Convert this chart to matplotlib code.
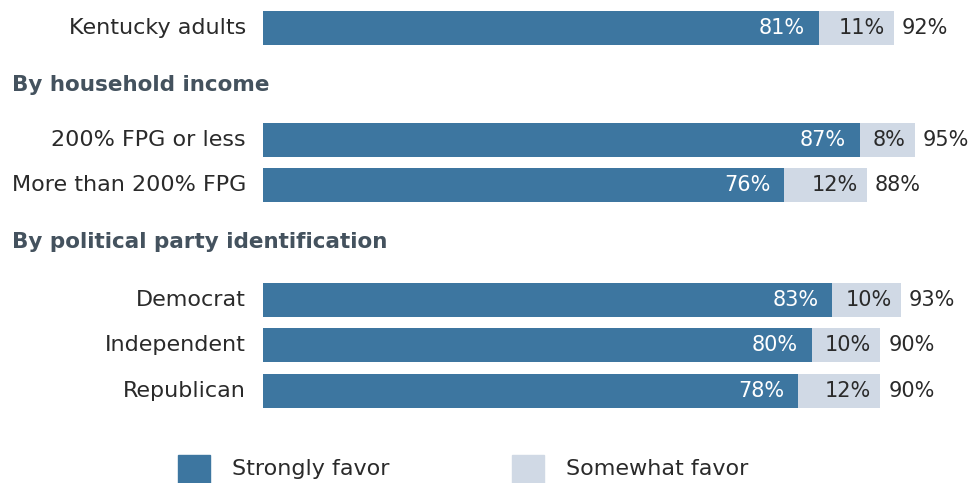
import matplotlib
matplotlib.use("Agg")
import matplotlib.pyplot as plt
from matplotlib.patches import Rectangle

categories = ["Kentucky adults", "200% FPG or less", "More than 200% FPG",
              "Democrat", "Independent", "Republican"]
strongly = [81, 87, 76, 83, 80, 78]
somewhat = [11, 8, 12, 10, 10, 12]
totals = [92, 95, 88, 93, 90, 90]
headings = ["By household income", "By political party identification"]
legend_labels = ["Strongly favor", "Somewhat favor"]

DARK = "#3D76A0"
LIGHT = "#D0D9E5"
HEAD = "#44525E"
TXT = "#2a2a2a"

W, H = 968, 483
fig = plt.figure(figsize=(W / 100, H / 100), dpi=100)
plt.rcParams['font.family'] = ['DejaVu Sans']

x0, x100 = 263, 949
ax = fig.add_axes([x0 / W, 0, (x100 - x0) / W, 1])
ax.set_xlim(0, 100)
ax.set_ylim(H, 0)
ax.axis("off")

# layout (pixel rows)
row_y = [28, 140, 185, 300, 345, 391]
bar_h = 34
head_y = [85, 242]

pct_per_px = 100 / (x100 - x0)

fs = 15
fs_lab = 16
ax.barh(row_y, strongly, height=bar_h, color=DARK, left=0)
ax.barh(row_y, somewhat, height=bar_h, color=LIGHT, left=strongly)

for y, cat, s, w, t in zip(row_y, categories, strongly, somewhat, totals):
    ax.text(-17 * pct_per_px, y, cat, ha="right", va="center", fontsize=fs_lab, color=TXT)
    ax.text(s - 14 * pct_per_px, y, f"{s}%", ha="right", va="center", fontsize=fs, color="white")
    ax.text(s + w - 9 * pct_per_px, y, f"{w}%", ha="right", va="center", fontsize=fs, color=TXT)
    ax.text(s + w + 8 * pct_per_px, y, f"{t}%", ha="left", va="center", fontsize=fs, color=TXT)

for y, h in zip(head_y, headings):
    fig.text(12 / W, 1 - y / H, h, ha="left", va="center", fontsize=15.5,
             fontweight="bold", color=HEAD)

# legend
leg_items = [(178, DARK), (512, LIGHT)]
for (lx, col), lab in zip(leg_items, legend_labels):
    fig.patches.append(Rectangle((lx / W, 1 - 484 / H), 32 / W, 29 / H,
                                 transform=fig.transFigure, color=col))
    fig.text((lx + 54) / W, 1 - 469 / H, lab, ha="left", va="center",
             fontsize=fs_lab, color=TXT)

fig.savefig("out.png", dpi=100)
